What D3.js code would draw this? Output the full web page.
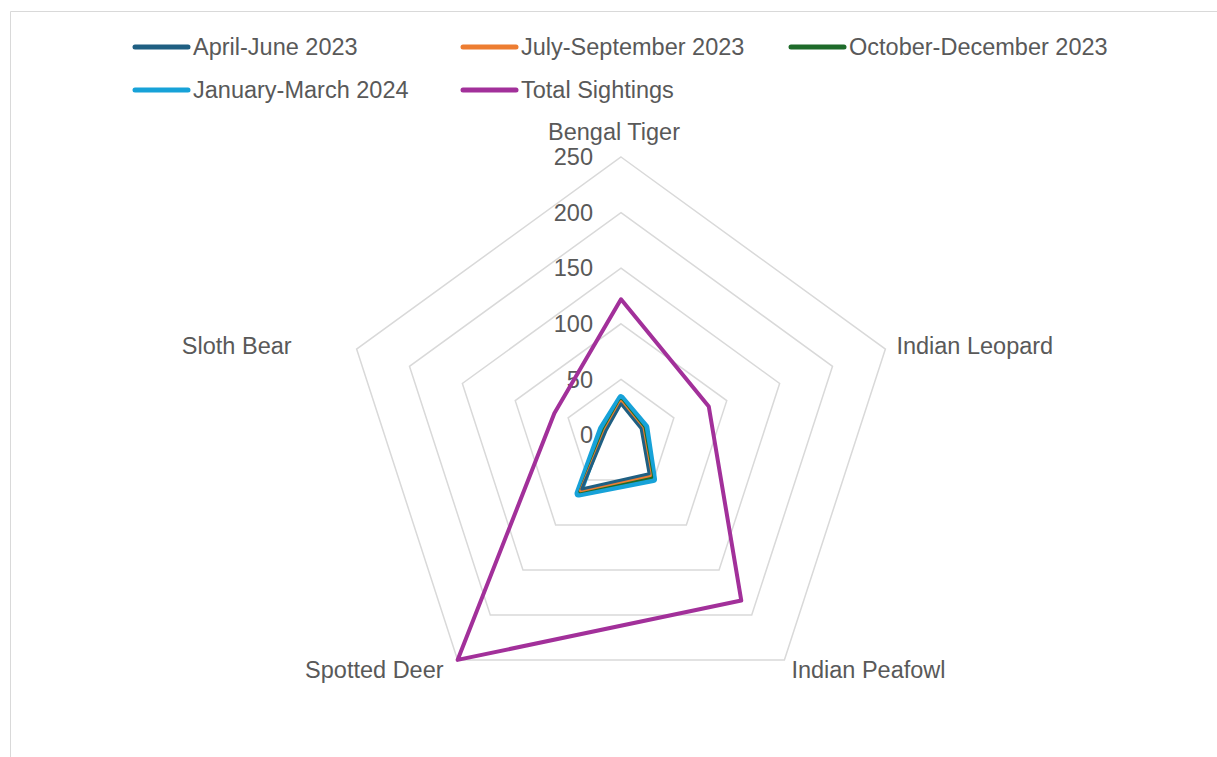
<!DOCTYPE html>
<html><head><meta charset="utf-8">
<script src="https://cdn.jsdelivr.net/npm/d3@7"></script>
<style>body{margin:0;background:#fff}svg{display:block}text{font-family:"Liberation Sans",Arial,sans-serif;fill:#595959}</style>
</head><body><svg id="c" width="1217" height="757"></svg>
<script>
const categories = ["Bengal Tiger","Indian Leopard","Indian Peafowl","Spotted Deer","Sloth Bear"];
const seriesNames = ["April-June 2023","July-September 2023","October-December 2023","January-March 2024","Total Sightings"];
const aprJun2023 = [28,19,43,60,14];
const julSep2023 = [30,20,45,62,15];
const octDec2023 = [31,21,47,63,16];
const janMar2024 = [33,23,49,65,18];
const totalSightings = [122,83,184,250,63];
const tickValues = [0,50,100,150,200,250];
const colors = ["#1f5f82","#ed7d31","#1e6b2a","#17a2d8","#a2309a"];
const widths = [3,3,3,8,4];
const allSeries = [aprJun2023,julSep2023,octDec2023,janMar2024,totalSightings];

const svg = d3.select("#c");
svg.append("path").attr("d","M1217,11.5H10.5V757").attr("fill","none").attr("stroke","#d9d9d9").attr("stroke-width",1);

const cx = 621, cy = 435, R = 278;
const r = d3.scaleLinear().domain([0,250]).range([0,R]);
const ang = d3.scaleLinear().domain([0,categories.length]).range([0,2*Math.PI]);
const pt = (i,v)=>[cx + r(v)*Math.sin(ang(i)), cy - r(v)*Math.cos(ang(i))];

const FS = 23.5;
const g = svg.append("g");
tickValues.slice(1).forEach(t=>{
  g.append("path").attr("d", d3.line()(categories.map((c,i)=>pt(i,t)))+"Z")
   .attr("fill","none").attr("stroke","#d9d9d9").attr("stroke-width",1.5);
});
tickValues.forEach(t=>{
  g.append("text").attr("x",593).attr("y",cy - r(t)).attr("dy","0.35em")
   .attr("text-anchor","end").attr("font-size",FS).text(t);
});
const labPos = [
  {anchor:"middle", dx:-7, dy:-25},
  {anchor:"start", dx:11, dy:-3},
  {anchor:"start", dx:7, dy:10},
  {anchor:"end", dx:-14, dy:10},
  {anchor:"end", dx:-65, dy:-3}
];
categories.forEach((c,i)=>{
  const [x,y] = pt(i,250);
  const p = labPos[i];
  g.append("text").attr("x",x+p.dx).attr("y",y+p.dy).attr("dy","0.35em")
   .attr("text-anchor",p.anchor).attr("font-size",FS).text(c);
});
const order = [3,2,1,0,4];
order.forEach(k=>{
  g.append("path").attr("d", d3.line()(allSeries[k].map((v,i)=>pt(i,v)))+"Z")
   .attr("fill","none").attr("stroke",colors[k]).attr("stroke-width",widths[k])
   .attr("stroke-linejoin","round");
});
const legPos = [[135,47],[463,47],[791,47],[135,90],[463,90]];
seriesNames.forEach((n,k)=>{
  const [x,y] = legPos[k];
  svg.append("line").attr("x1",x).attr("x2",x+53).attr("y1",y).attr("y2",y)
    .attr("stroke",colors[k]).attr("stroke-width",5).attr("stroke-linecap","round");
  svg.append("text").attr("x",x+58).attr("y",y).attr("dy","0.35em").attr("font-size",FS).text(n);
});
</script></body></html>
